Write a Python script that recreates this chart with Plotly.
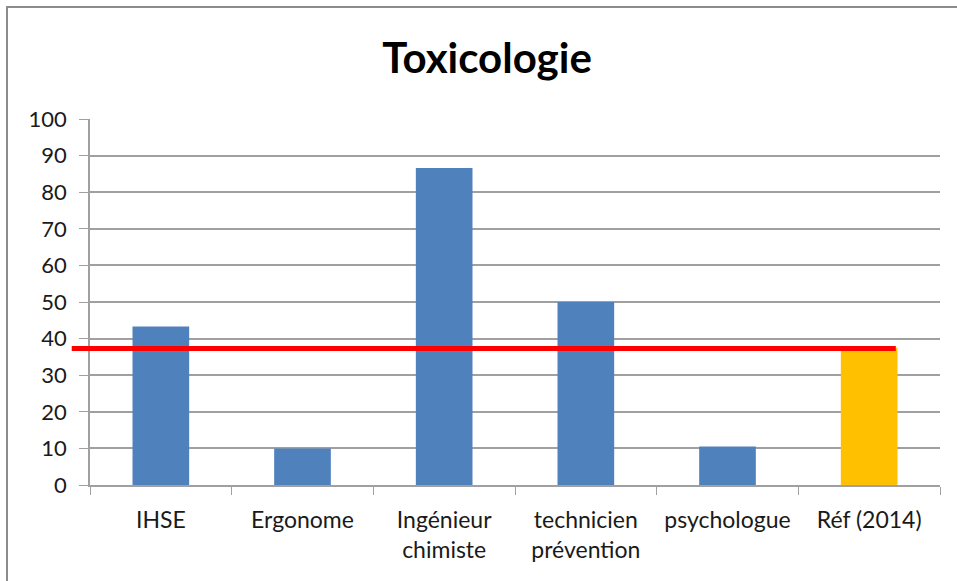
import plotly.graph_objects as go

categories = ["IHSE", "Ergonome", "Ingénieur<br>chimiste", "technicien<br>prévention", "psychologue", "Réf (2014)"]
values = [43.3, 10.0, 86.6, 50.0, 10.5, 37.5]
bar_colors = ["#4F81BD", "#4F81BD", "#4F81BD", "#4F81BD", "#4F81BD", "#FFC000"]
reference_value = 37.3
y_ticks = [0, 10, 20, 30, 40, 50, 60, 70, 80, 90, 100]

font_family = "Lato, 'Open Sans', sans-serif"

fig = go.Figure()
fig.add_trace(go.Bar(
    x=categories,
    y=values,
    marker=dict(color=bar_colors, line=dict(width=0)),
    showlegend=False,
    hoverinfo="x+y",
))

fig.add_shape(type="line", xref="paper", yref="y",
              x0=-0.0215, x1=0.948, y0=reference_value, y1=reference_value,
              line=dict(color="#FF0000", width=5), layer="above")

# outer chart border (cropped at right/bottom in the reference)
fig.add_shape(type="rect", xref="paper", yref="paper",
              x0=(7 - 90) / 850, x1=1.3, y0=-0.6, y1=1 + (119 - 7) / 366,
              line=dict(color="#8C8C8C", width=2), layer="below")

fig.update_layout(
    width=957, height=581,
    margin=dict(l=90, r=17, t=119, b=96),
    paper_bgcolor="white",
    plot_bgcolor="white",
    bargap=0.6,
    title=dict(text="<b>Toxicologie</b>", x=0.509, xanchor="center", y=0.9, yanchor="middle",
               font=dict(family=font_family, size=42, color="black")),
    font=dict(family=font_family, size=22, color="#1a1a1a"),
    xaxis=dict(
        type="category",
        showline=True, linecolor="#A0A0A0", linewidth=1.5,
        ticks="outside", tickson="boundaries", ticklen=8, tickcolor="#A0A0A0",
        ticklabelstandoff=14,
        tickfont=dict(family=font_family, size=23, color="#1a1a1a"),
        showgrid=False,
    ),
    yaxis=dict(
        range=[0, 100],
        tickvals=y_ticks,
        showline=True, linecolor="#A0A0A0", linewidth=1.5,
        ticks="outside", ticklen=9, tickcolor="#A0A0A0",
        showgrid=True, gridcolor="#A0A0A0", gridwidth=1.5,
        zeroline=False,
        tickfont=dict(family=font_family, size=22, color="#1a1a1a"),
        ticklabelstandoff=8,
    ),
)

fig.write_html("out.html", config={"displayModeBar": False},
               post_script="document.body.style.margin='0';document.body.style.overflow='hidden';")
